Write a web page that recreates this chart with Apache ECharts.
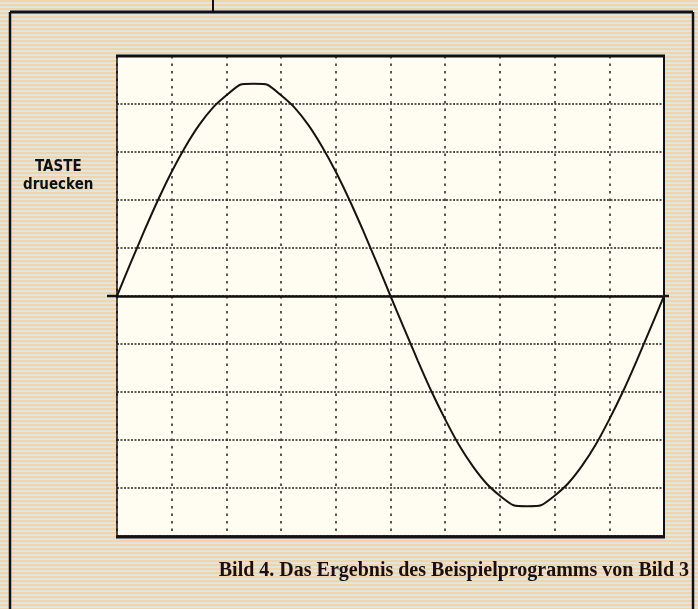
<!DOCTYPE html>
<html><head><meta charset="utf-8">
<script src="https://cdn.jsdelivr.net/npm/echarts@6/dist/echarts.min.js"></script>
<style>html,body{margin:0;padding:0;background:#efdcc0}#c{width:698px;height:609px}</style>
</head><body><div id="c"></div>
<script>
// x positions (grid divisions) and values (grid divisions, ±5 full scale)
const xValues = [0,0.25,0.5,0.75,1,1.25,1.5,1.75,2,2.25,2.5,2.75,3,3.25,3.5,3.75,4,4.25,4.5,4.75,5,
  5.25,5.5,5.75,6,6.25,6.5,6.75,7,7.25,7.5,7.75,8,8.25,8.5,8.75,9,9.25,9.5,9.75,10];
const yValues = [0,0.69,1.36,2.00,2.59,3.11,3.56,3.92,4.18,4.40,4.42,4.40,4.18,3.92,3.56,3.11,2.59,2.00,1.36,0.69,0,
  -0.68,-1.35,-1.99,-2.57,-3.10,-3.54,-3.90,-4.16,-4.36,-4.38,-4.36,-4.16,-3.90,-3.54,-3.10,-2.57,-1.99,-1.35,-0.68,0];
const xRange = [0, 10];
const yRange = [-5, 5];
const sideText = ['TASTE', 'druecken'];
const caption = 'Bild 4. Das Ergebnis des Beispielprogramms von Bild 3';

// striped paper background
const pc = document.createElement('canvas');
pc.width = 6; pc.height = 4;
const g = pc.getContext('2d');
g.fillStyle = '#f2d4aa'; g.fillRect(0,0,6,2);
g.fillStyle = '#e3e3da'; g.fillRect(0,2,6,1);
g.fillStyle = '#f5e2c2'; g.fillRect(0,3,6,1);

const chart = echarts.init(document.getElementById('c'), null, {renderer:'canvas'});
const G = {left:117, top:56, right:34, bottom:73};
chart.setOption({
  backgroundColor: {image: pc, repeat: 'repeat'},
  animation: false,
  grid: Object.assign({backgroundColor:'#fffcf1', show:true, borderWidth:0}, G),
  xAxis: {type:'value', min:xRange[0], max:xRange[1], interval:1,
    axisLabel:{show:false}, axisTick:{show:false},
    axisLine:{show:true, onZero:true, lineStyle:{color:'#111', width:2.5}},
    splitLine:{show:true, lineStyle:{color:'#222', width:1.5, type:[2.5,5]}}},
  yAxis: {type:'value', min:yRange[0], max:yRange[1], interval:1,
    axisLabel:{show:false}, axisTick:{show:false}, axisLine:{show:false},
    splitLine:{show:true, lineStyle:{color:'#222', width:1.5, type:[2,1.5]}}},
  series: [{type:'line', data: xValues.map((x,i)=>[x,yValues[i]]), showSymbol:false, smooth:0.2,
    lineStyle:{color:'#1a1212', width:2}, z:5}],
  graphic: [
    // outer frame
    {type:'line', shape:{x1:10,y1:12,x2:693,y2:12}, style:{stroke:'#111', lineWidth:3}},
    {type:'line', shape:{x1:10,y1:12,x2:10,y2:609}, style:{stroke:'#111', lineWidth:2.5}},
    {type:'line', shape:{x1:693,y1:12,x2:693,y2:609}, style:{stroke:'#111', lineWidth:2.5}},
    {type:'line', shape:{x1:213,y1:0,x2:213,y2:12}, style:{stroke:'#111', lineWidth:2}},
    // plot box
    {type:'rect', shape:{x:117,y:56,width:547,height:480}, style:{fill:null, stroke:'#111', lineWidth:1.5}, z:10},
    {type:'line', shape:{x1:116,y1:56,x2:665,y2:56}, style:{stroke:'#111', lineWidth:3}, z:10},
    {type:'line', shape:{x1:116,y1:537,x2:665,y2:537}, style:{stroke:'#1a1212', lineWidth:3}, z:10},
    {type:'line', shape:{x1:664,y1:56,x2:664,y2:537}, style:{stroke:'#111', lineWidth:2}, z:10},
    // zero line extensions
    {type:'line', shape:{x1:107,y1:296,x2:118,y2:296}, style:{stroke:'#111', lineWidth:2.5}, z:10},
    {type:'line', shape:{x1:663,y1:296,x2:669,y2:296}, style:{stroke:'#2a1010', lineWidth:2.5}, z:10},
    // side text
    {type:'text', left:35, top:160, style:{text:sideText[0], font:'bold 15px "DejaVu Sans Condensed"', fill:'#111'}},
    {type:'text', left:23, top:178, style:{text:sideText[1], font:'bold 15px "DejaVu Sans Condensed"', fill:'#111'}},
    {type:'text', right:9, top:561, style:{text:caption, font:'bold 20px "Liberation Serif"', fill:'#1a1010'}}
  ]
});
</script></body></html>
